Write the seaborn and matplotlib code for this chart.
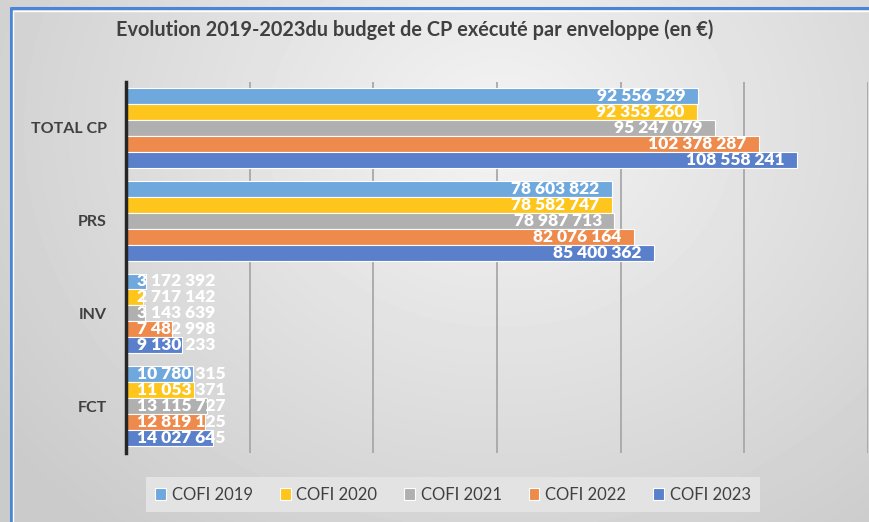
import numpy as np
import pandas as pd
import matplotlib.pyplot as plt
import seaborn as sns

# =========================
# DATA
# =========================

categories = ['TOTAL CP', 'PRS', 'INV', 'FCT']
years = ['COFI 2019', 'COFI 2020', 'COFI 2021', 'COFI 2022', 'COFI 2023']

cofi_2019 = [92556529, 78603822, 3172392, 10780315]
cofi_2020 = [92353260, 78582747, 2717142, 11053371]
cofi_2021 = [95247079, 78987713, 3143639, 13115727]
cofi_2022 = [102378287, 82076164, 7482998, 12819125]
cofi_2023 = [108558241, 85400362, 9130233, 14027645]

colors = ['#6fa8dc', '#fec61c', '#b0b0b0', '#ee8a4b', '#5a80cb']

series = [cofi_2019, cofi_2020, cofi_2021, cofi_2022, cofi_2023]
rows = []
for year, vals in zip(years, series):
    for cat, v in zip(categories, vals):
        rows.append({'Enveloppe': cat, 'Annee': year, 'Montant': v})
df = pd.DataFrame(rows)

# =========================
# STYLE
# =========================

sns.set_theme(style='white')
plt.rcParams['font.family'] = ['Lato', 'DejaVu Sans']
text_col = '#404040'

fig = plt.figure(figsize=(8.7, 5.22), dpi=100)

# background gradient
bg = fig.add_axes([0, 0, 1, 1], zorder=-10)
yy, xx = np.mgrid[0:522, 0:870]
d = np.sqrt(((xx - 500) / 620.0) ** 2 + ((yy - 130) / 520.0) ** 2)
d = np.clip(d, 0, 1)
shade = 0.955 - 0.16 * d
bg.imshow(shade, cmap='gray', vmin=0, vmax=1, extent=[0, 870, 522, 0], aspect='auto')
bg.set_xlim(0, 870)
bg.set_ylim(522, 0)
bg.axis('off')
# screenshot frame
bg.plot([11, 11], [8, 522], color='#4a86d8', lw=2.2)
bg.plot([11, 870], [8, 8], color='#4a86d8', lw=2.2)
bg.plot([13.5, 13.5], [10.5, 522], color='white', lw=1)
bg.plot([13.5, 870], [10.5, 10.5], color='white', lw=1)

ax = fig.add_axes([0.1448, 0.1331, 0.853, 0.7107])
ax.set_facecolor('none')

sns.barplot(data=df, y='Enveloppe', x='Montant', hue='Annee', order=categories,
            hue_order=years, palette=colors, orient='h', width=0.86,
            edgecolor='white', linewidth=0.8, saturation=1, ax=ax, legend=True)

ax.set_xlim(0, 120e6)
ax.set_xticks(np.arange(0, 120e6 + 1, 20e6))
ax.set_xticklabels([])
ax.grid(axis='x', color='#a8a8a8', lw=1.3)
ax.grid(axis='y', visible=False)
ax.set_axisbelow(True)
ax.set_xlabel('')
ax.set_ylabel('')
for s in ['top', 'right', 'bottom']:
    ax.spines[s].set_visible(False)
ax.spines['left'].set_color('#262626')
ax.spines['left'].set_linewidth(2.5)
ax.tick_params(axis='y', length=0, pad=14, labelsize=11.5, labelcolor=text_col)
ax.tick_params(axis='x', length=0)
for lbl in ax.get_yticklabels():
    lbl.set_fontweight('bold')

# value labels
for cont in ax.containers:
    for bar in cont:
        v = bar.get_width()
        y = bar.get_y() + bar.get_height() / 2
        txt = f"{int(round(v)):,}".replace(',', ' ')
        if v < 20e6:
            ax.annotate(txt, (0, y), xytext=(8, 0), textcoords='offset points',
                        ha='left', va='center', color='white', fontsize=12.5,
                        fontweight='heavy')
        else:
            ax.annotate(txt, (v, y), xytext=(-9, 0), textcoords='offset points',
                        ha='right', va='center', color='white', fontsize=12.5,
                        fontweight='heavy')

# legend
handles, labels = ax.get_legend_handles_labels()
ax.get_legend().remove()
fig.legend(handles, labels, loc='center', bbox_to_anchor=(453 / 870, 1 - 494.5 / 522),
           ncol=5, frameon=True, facecolor='#e3e3e3', edgecolor='none', framealpha=1,
           fancybox=False, fontsize=12, handlelength=0.65, handleheight=0.75,
           handletextpad=0.35, columnspacing=1.6, borderpad=0.55,
           labelcolor=text_col)

fig.text(415 / 870, 1 - 30 / 522,
         'Evolution 2019-2023du budget de CP exécuté par enveloppe (en €)',
         ha='center', va='center', fontsize=14.3, fontweight='bold', color=text_col)

fig.savefig('out.png', dpi=100)
